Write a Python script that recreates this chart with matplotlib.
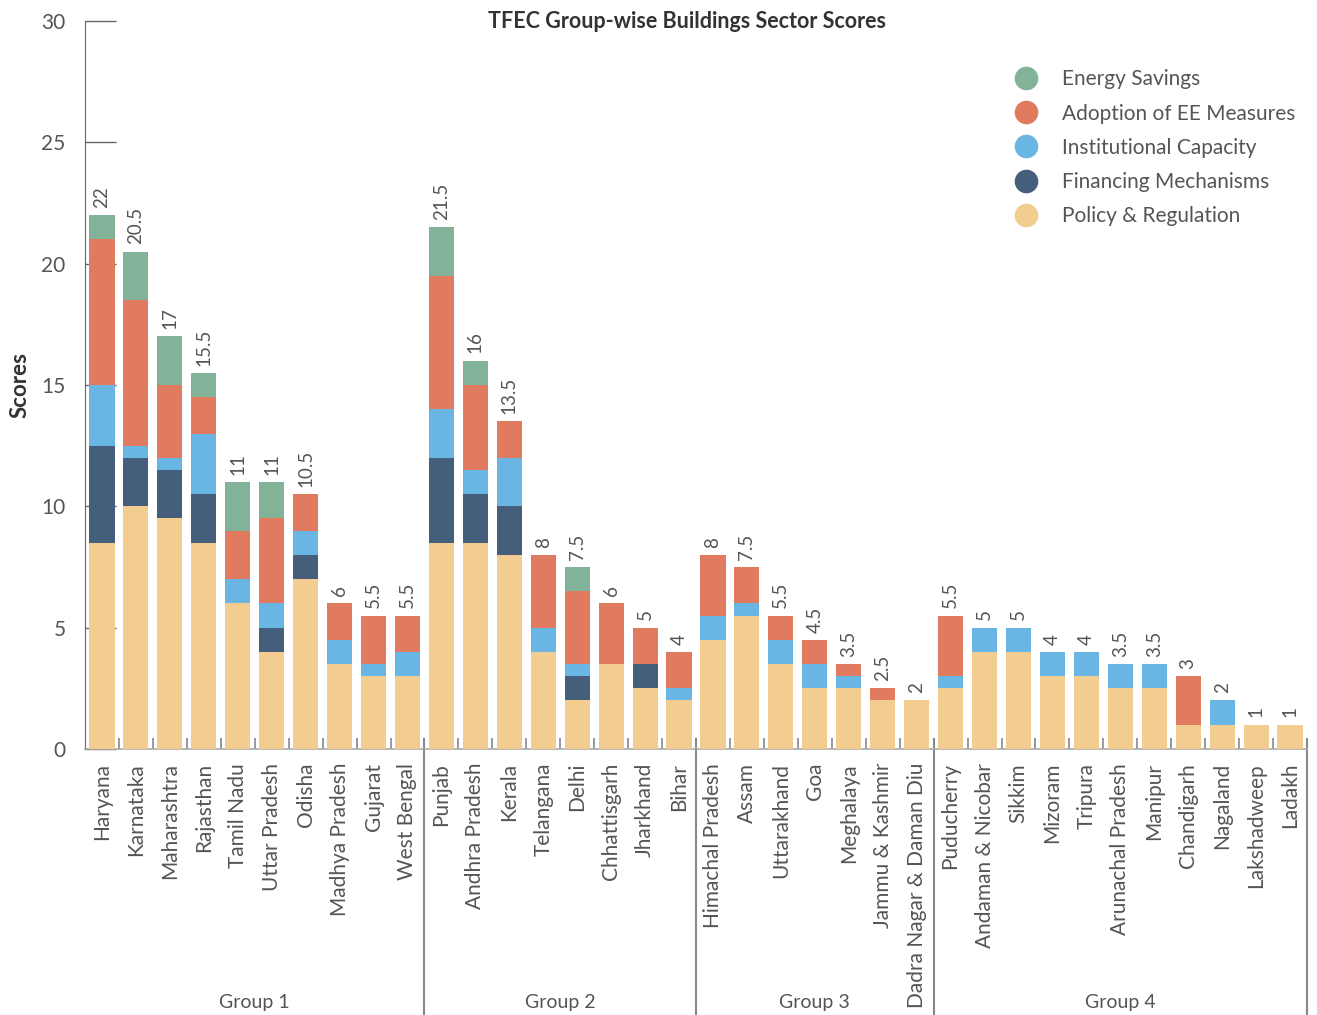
import matplotlib.pyplot as plt
import numpy as np
from matplotlib.lines import Line2D

plt.rcParams['font.family'] = ['Lato', 'DejaVu Sans']

states = ['Haryana', 'Karnataka', 'Maharashtra', 'Rajasthan', 'Tamil Nadu', 'Uttar Pradesh',
          'Odisha', 'Madhya Pradesh', 'Gujarat', 'West Bengal',
          'Punjab', 'Andhra Pradesh', 'Kerala', 'Telangana', 'Delhi', 'Chhattisgarh',
          'Jharkhand', 'Bihar',
          'Himachal Pradesh', 'Assam', 'Uttarakhand', 'Goa', 'Meghalaya', 'Jammu & Kashmir',
          'Dadra Nagar & Daman Diu',
          'Puducherry', 'Andaman & Nicobar', 'Sikkim', 'Mizoram', 'Tripura', 'Arunachal Pradesh',
          'Manipur', 'Chandigarh', 'Nagaland', 'Lakshadweep', 'Ladakh']
groups = ['Group 1', 'Group 2', 'Group 3', 'Group 4']
group_sizes = [10, 8, 7, 11]

policy = [8.5, 10, 9.5, 8.5, 6, 4, 7, 3.5, 3, 3,
          8.5, 8.5, 8, 4, 2, 3.5, 2.5, 2,
          4.5, 5.5, 3.5, 2.5, 2.5, 2, 2,
          2.5, 4, 4, 3, 3, 2.5, 2.5, 1, 1, 1, 1]
financing = [4, 2, 2, 2, 0, 1, 1, 0, 0, 0,
             3.5, 2, 2, 0, 1, 0, 1, 0,
             0, 0, 0, 0, 0, 0, 0,
             0, 0, 0, 0, 0, 0, 0, 0, 0, 0, 0]
institutional = [2.5, 0.5, 0.5, 2.5, 1, 1, 1, 1, 0.5, 1,
                 2, 1, 2, 1, 0.5, 0, 0, 0.5,
                 1, 0.5, 1, 1, 0.5, 0, 0,
                 0.5, 1, 1, 1, 1, 1, 1, 0, 1, 0, 0]
adoption = [6, 6, 3, 1.5, 2, 3.5, 1.5, 1.5, 2, 1.5,
            5.5, 3.5, 1.5, 3, 3, 2.5, 1.5, 1.5,
            2.5, 1.5, 1, 1, 0.5, 0.5, 0,
            2.5, 0, 0, 0, 0, 0, 0, 2, 0, 0, 0]
energy = [1, 2, 2, 1, 2, 1.5, 0, 0, 0, 0,
          2, 1, 0, 0, 1, 0, 0, 0,
          0, 0, 0, 0, 0, 0, 0,
          0, 0, 0, 0, 0, 0, 0, 0, 0, 0, 0]

series = [('Policy & Regulation', policy, '#F2CD8F'),
          ('Financing Mechanisms', financing, '#445E7B'),
          ('Institutional Capacity', institutional, '#69B5E3'),
          ('Adoption of EE Measures', adoption, '#E07B5F'),
          ('Energy Savings', energy, '#82B399')]

txt = '#555555'
fig = plt.figure(figsize=(13.17, 10.15), dpi=100)
ax = fig.add_axes([85 / 1317, 1 - 749 / 1015, 1222 / 1317, 728 / 1015])

x = np.arange(len(states))
bottom = np.zeros(len(states))
for name, vals, col in series:
    ax.bar(x, vals, 0.74, bottom=bottom, color=col, zorder=3, label=name)
    bottom += np.array(vals)

# totals above bars
for xi, t in zip(x, bottom):
    ax.text(xi, t + 0.3, f'{t:g}', rotation=90, ha='center', va='bottom',
            fontsize=13.5, color=txt)

ax.set_xlim(-0.5, len(states) - 0.5)
ax.set_ylim(0, 30)
ax.set_yticks([0, 5, 10, 15, 20, 25, 30])
ax.tick_params(axis='y', direction='in', length=22, width=1, color='#666666',
               labelsize=15, labelcolor=txt, pad=14)
ax.set_xticks(x)
ax.set_xticklabels(states, rotation=90, fontsize=15, color=txt)
ax.tick_params(axis='x', length=0, pad=10)
ax.set_xticks(np.arange(0.5, len(states) - 1, 1), minor=True)
ax.tick_params(axis='x', which='minor', direction='in', length=8, width=1.2, color='#888888')

for s in ['top', 'right']:
    ax.spines[s].set_visible(False)
ax.spines['left'].set_color('#666666')
ax.spines['bottom'].set_color('#aaaaaa')
ax.spines['bottom'].set_linewidth(1.2)

ax.set_ylabel('Scores', fontsize=16, fontweight='bold', color='#333333', labelpad=8)

# group separators and labels
edges = np.cumsum([0] + group_sizes) - 0.5
trans = ax.get_xaxis_transform()
for e in edges[1:]:
    ax.plot([e, e], [0.014, -0.365], transform=trans, color='#888888', lw=1.5, clip_on=False)
for g, a, b in zip(groups, edges[:-1], edges[1:]):
    ax.text((a + b) / 2, -0.348, g, transform=trans, ha='center', va='center',
            fontsize=14, color=txt)

fig.text(687 / 1317, 1 - 21 / 1015, 'TFEC Group-wise Buildings Sector Scores',
         ha='center', va='center', fontsize=15.5, fontweight='bold', color='#333333')

handles = [Line2D([], [], marker='o', linestyle='', markersize=16, color=c)
           for _, _, c in series[::-1]]
labels = [n for n, _, _ in series[::-1]]
fig.legend(handles, labels, loc='upper left', bbox_to_anchor=(995 / 1317, 1 - 59 / 1015),
           frameon=False, fontsize=15, labelcolor=txt, handletextpad=0.7,
           labelspacing=0.68, borderpad=0)

fig.savefig('out.png', dpi=100)
